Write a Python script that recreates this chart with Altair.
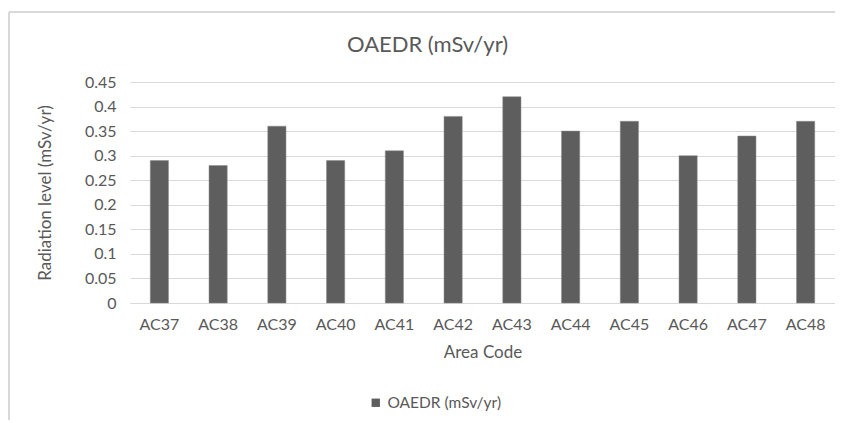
import altair as alt
import pandas as pd

categories = ["AC37", "AC38", "AC39", "AC40", "AC41", "AC42",
              "AC43", "AC44", "AC45", "AC46", "AC47", "AC48"]
values = [0.29, 0.28, 0.36, 0.29, 0.31, 0.38, 0.42, 0.35, 0.37, 0.30, 0.34, 0.37]
series_name = "OAEDR (mSv/yr)"
y_ticks = [0, 0.05, 0.1, 0.15, 0.2, 0.25, 0.3, 0.35, 0.4, 0.45]

df = pd.DataFrame({"Area Code": categories, "value": values, "series": series_name})

FONT = "Lato"
GREY = "#595959"

bars = alt.Chart(df).mark_bar(color="#5e5e5e", stroke="#8a8a8a", strokeWidth=0.5).encode(
    x=alt.X("Area Code:N", sort=categories,
            scale=alt.Scale(paddingInner=0.69, paddingOuter=0.345),
            axis=alt.Axis(title="Area Code", labelAngle=0, ticks=False, domain=True,
                          domainColor="#d9d9d9", labelPadding=13, titlePadding=12,
                          labelFontSize=16, titleFontSize=17, labelColor=GREY,
                          titleColor=GREY, labelFont=FONT, titleFont=FONT,
                          titleFontWeight="normal", grid=False)),
    y=alt.Y("value:Q", scale=alt.Scale(domain=[0, 0.45], nice=False),
            axis=alt.Axis(title="Radiation level (mSv/yr)", values=y_ticks, ticks=False,
                          domain=False, grid=True, gridColor="#d9d9d9", labelPadding=14,
                          titlePadding=30, labelFontSize=16, titleFontSize=17,
                          labelColor=GREY, titleColor=GREY, labelFont=FONT,
                          titleFont=FONT, titleFontWeight="normal", format="~g")),
    fill=alt.Fill("series:N", scale=alt.Scale(range=["#5e5e5e"]),
                  legend=alt.Legend(title=None, orient="none", legendX=238, legendY=313,
                                    symbolType="square", symbolSize=70,
                                    labelFontSize=15.5, labelColor=GREY, labelFont=FONT,
                                    symbolStrokeWidth=0)),
)

frame_left = alt.Chart(df).mark_rule(color="#d9d9d9", strokeWidth=2).encode(
    x=alt.value(-121), y=alt.value(-70), y2=alt.value(345))
frame_top = alt.Chart(df).mark_rule(color="#d9d9d9", strokeWidth=2).encode(
    x=alt.value(-121), x2=alt.value(720), y=alt.value(-70))

chart = alt.layer(frame_left, frame_top, bars).properties(
    width=705, height=221,
    title=alt.TitleParams(series_name, fontSize=22, font=FONT, color=GREY,
                          fontWeight="normal", dx=-55, offset=-46),
    autosize=alt.AutoSizeParams(type="none"),
    padding={"left": 122, "top": 74, "right": 0, "bottom": 117},
).configure_view(stroke=None)

chart.save("out.html", embed_options={"renderer": "svg", "actions": False})
